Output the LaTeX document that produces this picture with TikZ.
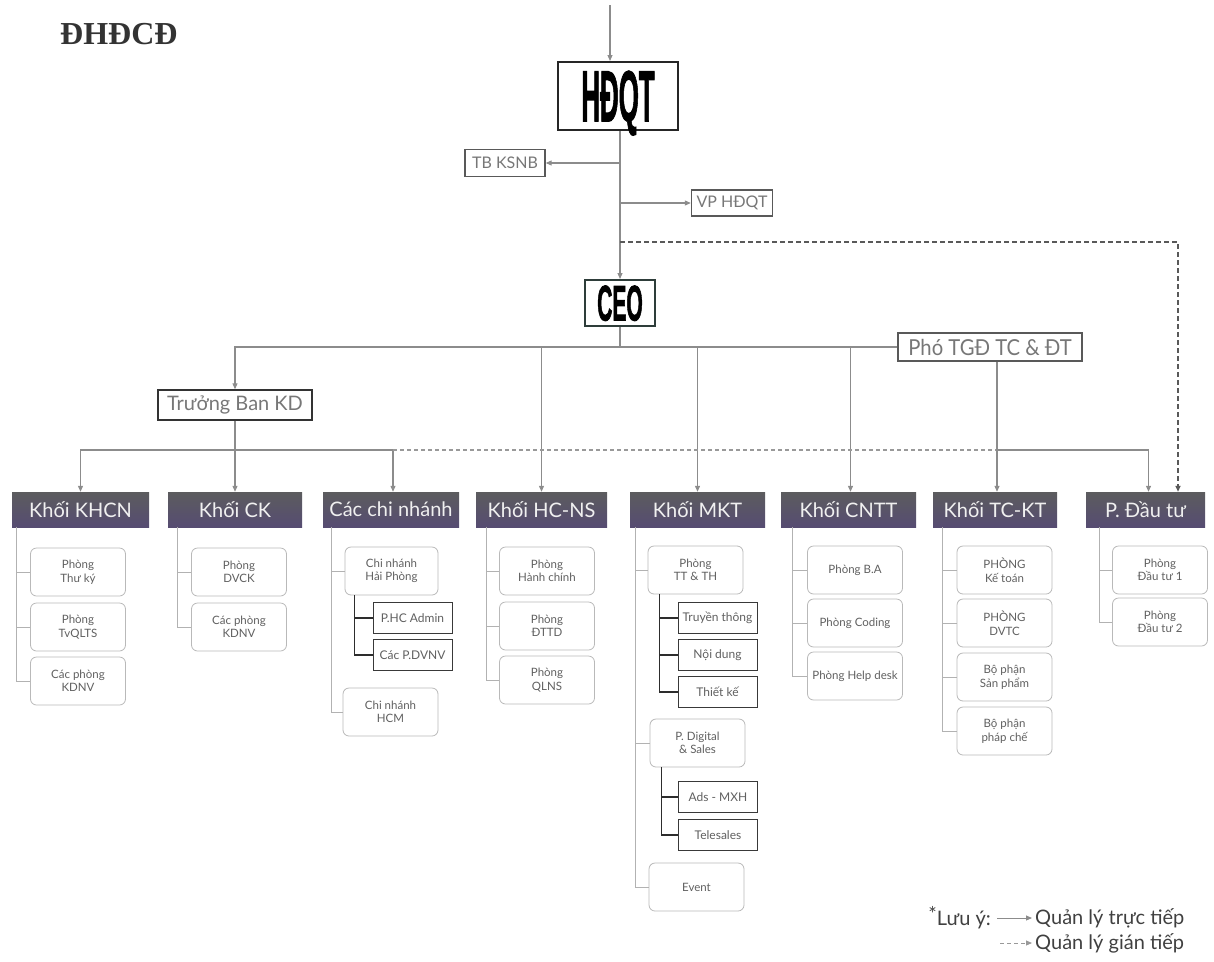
\documentclass[tikz,border=0pt]{standalone}
\usepackage{fontspec}
\setmainfont{Liberation Serif}
\newfontfamily\uifont{Lato}
\newfontfamily\heavyfont{Liberation Sans}[FakeBold=2]
\usetikzlibrary{arrows.meta}
\definecolor{linegray}{HTML}{8C8C8C}
\definecolor{hdtop}{HTML}{5C5C5E}
\definecolor{hdbot}{HTML}{564C72}
\definecolor{subtxt}{HTML}{606060}
\definecolor{boxgray}{HTML}{777777}
\definecolor{ceoedge}{HTML}{2E3D3A}
\begin{document}
\begin{tikzpicture}[x=1pt,y=-1pt,
 conn/.style={draw=linegray, line width=1.1pt},
 arr/.style={conn, -{Triangle[length=6pt,width=5pt]}},
 darkdash/.style={draw=gray!70!black, line width=1.6pt, dash pattern=on 5pt off 3pt},
 lightdash/.style={draw=gray!80, line width=1.3pt, dash pattern=on 4pt off 3pt},
 topbox/.style={draw=black!85, line width=2pt, fill=white, inner sep=0pt, text depth=0pt},
 midbox/.style={draw=gray!70!black, line width=1.4pt, fill=white, text=boxgray, font=\uifont\fontsize{16}{16}\selectfont, inner sep=0pt},
 hdr/.style={top color=hdtop, bottom color=hdbot, draw=none, text=white!88!gray, font=\uifont\fontsize{20}{20}\selectfont, minimum height=35pt, inner sep=0pt},
 sub/.style={draw=gray!55, line width=0.8pt, rounded corners=6pt, fill=white, minimum width=95pt, minimum height=48pt, align=center, text=subtxt, font=\uifont\fontsize{11.5}{13.5}\selectfont, inner sep=1pt},
 leaf/.style={draw=gray!45!black, line width=1pt, fill=white, minimum width=79pt, minimum height=31pt, text=subtxt, font=\uifont\fontsize{12}{13}\selectfont, inner sep=1pt},
 subconn/.style={draw=gray!60, line width=0.9pt},
 leafconn/.style={draw=gray!35!black, line width=1.4pt},
 legtext/.style={text=black!75, font=\uifont\fontsize{20}{20}\selectfont, inner sep=0pt},
]
\useasboundingbox (0,0) rectangle (1214,961);

% title
\node[anchor=west, font=\bfseries\fontsize{32}{32}\selectfont, text=black!80, inner sep=0pt] (dhdcd) at (60,34) {ĐHĐCĐ};

% top part
\coordinate (topin) at (610,5);
\node[topbox, minimum width=120pt, minimum height=68pt] (hdqt) at (618,96)
  {\scalebox{0.36}[1]{\heavyfont\bfseries\fontsize{72}{72}\selectfont HĐQT}};
\node[midbox, minimum width=80pt, minimum height=27pt] (tbksnb) at (505,163) {TB KSNB};
\node[midbox, minimum width=81pt, minimum height=26pt] (vphdqt) at (732,203) {VP HĐQT};
\node[topbox, draw=ceoedge, minimum width=70pt, minimum height=46pt] (ceo) at (620,303)
  {\scalebox{0.42}[1]{\heavyfont\bfseries\fontsize{50}{50}\selectfont CEO}};
\node[midbox, minimum width=184pt, minimum height=28pt, font=\uifont\fontsize{22}{22}\selectfont] (pho) at (990,347) {\scalebox{0.92}[1]{Phó TGĐ TC \& ĐT}};
\node[midbox, draw=gray!40!black, minimum width=154pt, minimum height=30pt, font=\uifont\fontsize{20}{20}\selectfont] (tbkd) at (235,405) {Trưởng Ban KD};

% headers
\node[hdr, minimum width=137pt] (khcn) at (80.5,509.5) {Khối KHCN};
\node[hdr, minimum width=134pt] (ck) at (235,509.5) {Khối CK};
\node[hdr, minimum width=136pt] (cn) at (391,509.5) {Các chi nhánh};
\node[hdr, minimum width=131pt] (hcns) at (541.5,509.5) {Khối HC-NS};
\node[hdr, minimum width=135pt] (mkt) at (697.5,509.5) {Khối MKT};
\node[hdr, minimum width=135pt] (cntt) at (848.5,509.5) {Khối CNTT};
\node[hdr, minimum width=124pt] (tckt) at (995,509.5) {Khối TC-KT};
\node[hdr, minimum width=119pt] (daut) at (1145.5,509.5) {P. Đầu tư};

\coordinate (row) at (0,450);
\coordinate (dcorner) at (1178,242);

% connectors top
\draw[arr] (topin) -- (topin |- hdqt.north);
\draw[arr] (hdqt.south -| ceo.north) -- (ceo.north);
\draw[arr] (tbksnb.east -| ceo.north) -- (tbksnb.east);
\draw[arr] (vphdqt.west -| ceo.north) -- (vphdqt.west);
\draw[darkdash, -{Triangle[length=6pt,width=5pt]}] (ceo.north |- dcorner) -- (dcorner) -- (dcorner |- daut.north);

\draw[conn] (ceo.south) -- (ceo.south |- pho.west);
\draw[arr] (pho.west) -- (tbkd.north |- pho.west) -- (tbkd.north);
\draw[arr] (hcns.north |- pho.west) -- (hcns.north);
\draw[arr] (mkt.north |- pho.west) -- (mkt.north);
\draw[arr] ([xshift=2pt]cntt.north |- pho.west) -- ([xshift=2pt]cntt.north);

\draw[arr] (tbkd.south) -- (ck.north);
\draw[arr] (tbkd.south |- row) -- (khcn.north |- row) -- (khcn.north);
\draw[arr] (tbkd.south |- row) -- ([xshift=2pt]cn.north |- row) -- ([xshift=2pt]cn.north);
\draw[lightdash] ([xshift=2pt]cn.north |- row) -- ([xshift=2pt]tckt.north |- row);
\draw[arr] ([xshift=2pt]tckt.north |- pho.south) -- ([xshift=2pt]tckt.north);
\draw[arr] ([xshift=2pt]tckt.north |- row) -- ([xshift=3pt]daut.north |- row) -- ([xshift=3pt]daut.north);

% KHCN
\node[sub] (k1) at (78,572) {Phòng\\Thư ký};
\node[sub] (k2) at (78,627) {Phòng\\TvQLTS};
\node[sub] (k3) at (78,681) {Các phòng\\KDNV};
\foreach \n in {k1,k2,k3} \draw[subconn] ([xshift=5pt]khcn.south west) |- (\n.west);

% CK
\node[sub] (c1) at (239,572) {Phòng\\DVCK};
\node[sub] (c2) at (239,627) {Các phòng\\KDNV};
\foreach \n in {c1,c2} \draw[subconn] ([xshift=10pt]ck.south west) |- (\n.west);

% Cac chi nhanh
\node[sub, minimum width=93pt] (hp) at (391.5,571) {Chi nhánh\\Hải Phòng};
\node[leaf] (adm) at (412.5,618) {P.HC Admin};
\node[leaf] (dvnv) at (412.5,655) {Các P.DVNV};
\node[sub] (hcm) at (390.5,712) {Chi nhánh\\HCM};
\foreach \n in {hp,hcm} \draw[subconn] ([xshift=9pt]cn.south west) |- (\n.west);
\foreach \n in {adm,dvnv} \draw[leafconn] ([xshift=10pt]hp.south west) |- (\n.west);

% HC-NS
\node[sub] (h1) at (547,571) {Phòng\\Hành chính};
\node[sub] (h2) at (547,626) {Phòng\\ĐTTD};
\node[sub] (h3) at (547,680) {Phòng\\QLNS};
\foreach \n in {h1,h2,h3} \draw[subconn] ([xshift=11pt]hcns.south west) |- (\n.west);

% MKT
\node[sub] (m1) at (695.5,570) {Phòng\\TT \& TH};
\node[leaf] (tt) at (717.5,618) {Truyền thông};
\node[leaf] (nd) at (717.5,655) {Nội dung};
\node[leaf] (tk) at (717.5,692) {Thiết kế};
\node[sub] (m2) at (697.5,743) {P. Digital\\\& Sales};
\node[leaf] (ads) at (718,797) {Ads - MXH};
\node[leaf] (tel) at (718,835) {Telesales};
\node[sub] (ev) at (696.5,887) {Event};
\foreach \n in {m1,m2,ev} \draw[subconn] ([xshift=6pt]mkt.south west) |- (\n.west);
\foreach \n in {tt,nd,tk} \draw[leafconn] ([xshift=12pt]m1.south west) |- (\n.west);
\foreach \n in {ads,tel} \draw[leafconn] ([xshift=12pt]m2.south west) |- (\n.west);

% CNTT
\node[sub] (n1) at (855,570) {Phòng B.A};
\node[sub] (n2) at (855,623) {Phòng Coding};
\node[sub] (n3) at (855,676) {Phòng Help desk};
\foreach \n in {n1,n2,n3} \draw[subconn] ([xshift=12pt]cntt.south west) |- (\n.west);

% TC-KT
\node[sub] (t1) at (1004.5,570) {PHÒNG\\Kế toán};
\node[sub] (t2) at (1004.5,623) {PHÒNG\\DVTC};
\node[sub] (t3) at (1004.5,677) {Bộ phận\\Sản phẩm};
\node[sub] (t4) at (1004.5,731) {Bộ phận\\pháp chế};
\foreach \n in {t1,t2,t3,t4} \draw[subconn] ([xshift=10pt]tckt.south west) |- (\n.west);

% Dau tu
\node[sub] (d1) at (1160,570) {Phòng\\Đầu tư 1};
\node[sub] (d2) at (1160,622) {Phòng\\Đầu tư 2};
\foreach \n in {d1,d2} \draw[subconn] ([xshift=14pt]daut.south west) |- (\n.west);

% legend
\node[legtext, anchor=east] (luuy) at (991,918) {\raisebox{4pt}{*}Lưu ý:};
\node[legtext, anchor=west] (qltt) at (1035,918) {Quản lý trực tiếp};
\node[legtext, anchor=west] (qlgt) at (1035,943) {Quản lý gián tiếp};
\coordinate (lg0) at (1000,943);
\draw[conn, line width=0.9pt, -{Triangle[length=6pt,width=5pt]}] ([xshift=6pt]luuy.east) -- ([xshift=-3pt]qltt.west);
\draw[lightdash, line width=0.9pt, -{Triangle[length=6pt,width=5pt]}] (lg0) -- ([xshift=-3pt]qlgt.west);
\end{tikzpicture}
\end{document}
